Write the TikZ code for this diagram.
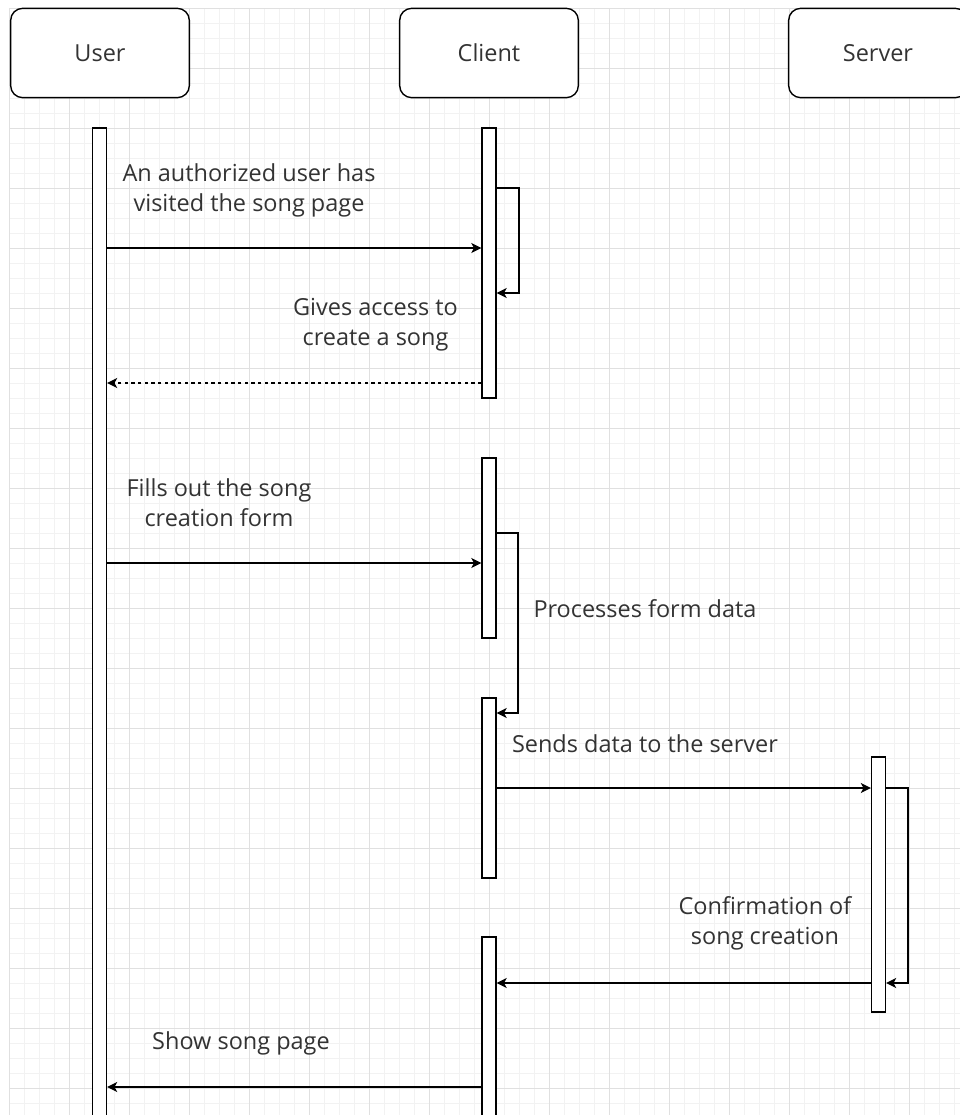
\documentclass[tikz,border=0pt]{standalone}
\usepackage{fontspec}
\setmainfont{Open Sans}
\usetikzlibrary{arrows.meta}

\begin{document}
\begin{tikzpicture}[x=0.75pt,y=-0.75pt,font=\fontsize{17.6}{22.5}\selectfont,
  head/.style={draw,rounded corners=9pt,minimum width=134pt,minimum height=67pt,line width=1.05pt,fill=white},
  lane/.style={draw,fill=white,minimum width=10.5pt,inner sep=0pt,line width=1.05pt},
  msg/.style={line width=1.05pt,-{Stealth[length=7.5pt,width=7.5pt,inset=2pt]}},
  reply/.style={msg,dash pattern=on 2.5pt off 2.5pt},
  note/.style={align=center,text=ink}]
\definecolor{gridminor}{HTML}{F2F2F2}
\definecolor{gridmajor}{HTML}{E0E0E0}
\definecolor{ink}{HTML}{333333}
\useasboundingbox (0,0) rectangle (960,1115);
\clip (0,0) rectangle (960,1115);
\fill[white] (0,0) rectangle (960,1115);
% grid
\foreach \x in {9,24,...,960} \draw[gridminor,line width=0.75pt] (\x,8) -- (\x,1115);
\foreach \y in {8,23,...,1115} \draw[gridminor,line width=0.75pt] (9,\y) -- (960,\y);
\foreach \x in {9,69,...,960} \draw[gridmajor,line width=0.75pt] (\x,8) -- (\x,1115);
\foreach \y in {8,68,...,1115} \draw[gridmajor,line width=0.75pt] (9,\y) -- (960,\y);
% actors
\node[head,text=ink] (user) at (100,53) {User};
\node[head,text=ink] (client) at (489,53) {Client};
\node[head,text=ink] (server) at (878,53) {Server};
% activation bars
\foreach \n/\x/\t/\b in {ubar/99.5/128/1140,cbar1/489/128/398,cbar2/489/458/638,cbar3/489/698/878,cbar4/489/937/1140,sbar/878.5/757/1012}
  {\node[lane,minimum height={(\b-\t)*0.75pt}] (\n) at (\x,{(\t+\b)/2}) {};}
% message levels
\coordinate (visit) at (0,248);
\coordinate (access) at (0,383);
\coordinate (fill) at (0,563);
\coordinate (send) at (0,788);
\coordinate (confirm) at (0,983);
\coordinate (show) at (0,1087);
\coordinate (loopa) at (519,188);
\coordinate (loopab) at (519,293);
\coordinate (loopb) at (518,533);
\coordinate (loopbb) at (518,713);
\coordinate (loopc) at (908,788);
\coordinate (loopcb) at (908,983);
\draw[msg] (ubar.east |- visit) -- (cbar1.west |- visit);
\draw[msg] (cbar1.east |- loopa) -- (loopa) -- (loopab) -- (cbar1.east |- loopab);
\draw[reply] (cbar1.west |- access) -- (ubar.east |- access);
\draw[msg] (ubar.east |- fill) -- (cbar2.west |- fill);
\draw[msg] (cbar2.east |- loopb) -- (loopb) -- (loopbb) -- (cbar3.east |- loopbb);
\draw[msg] (cbar3.east |- send) -- (sbar.west |- send);
\draw[msg] (sbar.east |- loopc) -- (loopc) -- (loopcb) -- (sbar.east |- loopcb);
\draw[msg] (sbar.west |- confirm) -- (cbar4.east |- confirm);
\draw[msg] (cbar4.west |- show) -- (ubar.east |- show);
% labels
\node[note] (lvisit) at (249,190) {An authorized user has\\visited the song page};
\node[note] (laccess) at (375.5,325) {Gives access to\\create a song};
\node[note] (lfill) at (219,503) {Fills out the song\\creation form};
\node[note] (lproc) at (645,609) {Processes form data};
\node[note] (lsend) at (645,744) {Sends data to the server};
\node[note] (lconf) at (765,923) {Confirmation of\\song creation};
\node[note] (lshow) at (241,1043) {Show song page};
\end{tikzpicture}
\end{document}
